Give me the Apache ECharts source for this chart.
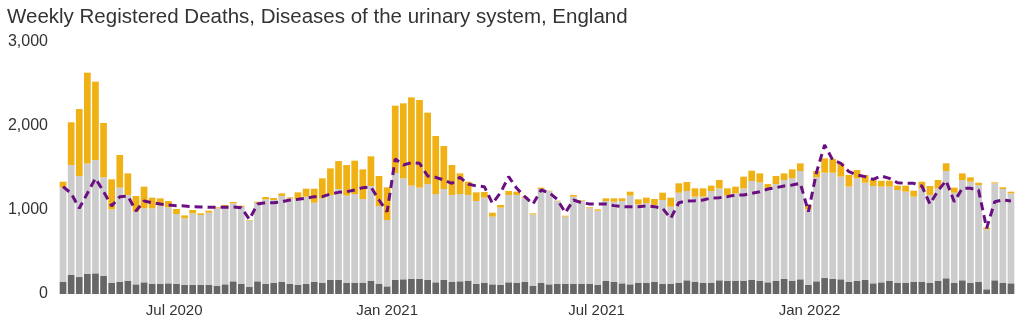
<!DOCTYPE html>
<html>
<head>
<meta charset="utf-8">
<script src="https://cdn.jsdelivr.net/npm/echarts@6/dist/echarts.min.js"></script>
<style>
  html, body { margin: 0; padding: 0; background: #fff; }
  #chart { width: 1024px; height: 324px; }
</style>
</head>
<body>
<div id="chart"></div>
<script>
// Week-ending dates (Fridays)
const weeks = [
  '2020-03-27','2020-04-03','2020-04-10','2020-04-17','2020-04-24','2020-05-01','2020-05-08','2020-05-15','2020-05-22','2020-05-29',
  '2020-06-05','2020-06-12','2020-06-19','2020-06-26','2020-07-03','2020-07-10','2020-07-17','2020-07-24','2020-07-31','2020-08-07',
  '2020-08-14','2020-08-21','2020-08-28','2020-09-04','2020-09-11','2020-09-18','2020-09-25','2020-10-02','2020-10-09','2020-10-16',
  '2020-10-23','2020-10-30','2020-11-06','2020-11-13','2020-11-20','2020-11-27','2020-12-04','2020-12-11','2020-12-18','2020-12-25',
  '2021-01-01','2021-01-08','2021-01-15','2021-01-22','2021-01-29','2021-02-05','2021-02-12','2021-02-19','2021-02-26','2021-03-05',
  '2021-03-12','2021-03-19','2021-03-26','2021-04-02','2021-04-09','2021-04-16','2021-04-23','2021-04-30','2021-05-07','2021-05-14',
  '2021-05-21','2021-05-28','2021-06-04','2021-06-11','2021-06-18','2021-06-25','2021-07-02','2021-07-09','2021-07-16','2021-07-23',
  '2021-07-30','2021-08-06','2021-08-13','2021-08-20','2021-08-27','2021-09-03','2021-09-10','2021-09-17','2021-09-24','2021-10-01',
  '2021-10-08','2021-10-15','2021-10-22','2021-10-29','2021-11-05','2021-11-12','2021-11-19','2021-11-26','2021-12-03','2021-12-10',
  '2021-12-17','2021-12-24','2021-12-31','2022-01-07','2022-01-14','2022-01-21','2022-01-28','2022-02-04','2022-02-11','2022-02-18',
  '2022-02-25','2022-03-04','2022-03-11','2022-03-18','2022-03-25','2022-04-01','2022-04-08','2022-04-15','2022-04-22','2022-04-29',
  '2022-05-06','2022-05-13','2022-05-20','2022-05-27','2022-06-03','2022-06-10','2022-06-17','2022-06-24'
];

// Dark grey bottom segment (height of the dark part)
const darkPart = [
  147,226,202,238,246,214,131,147,159,115, 139,123,123,127,123,111,111,111,111,95,
  115,151,123,83,151,123,131,143,119,111, 119,143,131,167,167,131,131,131,159,123,
  91,167,175,179,179,167,139,167,143,151, 159,119,135,115,107,139,135,143,99,135,
  115,119,119,119,119,119,107,155,147,127, 115,135,131,147,123,123,135,163,147,131,
  135,163,155,159,159,167,159,139,159,179, 159,175,107,151,190,179,175,147,155,167,
  127,139,155,135,135,147,147,131,159,187, 131,163,131,143,56,163,135,127
];

// Top of the light grey part (dark + light)
const greyTop = [
  1266,1536,1405,1555,1595,1389,1008,1266,1179,980, 1020,1020,1052,1032,952,901,960,940,968,1020,
  1048,1079,1040,873,1087,1127,1119,1167,1139,1127, 1159,1087,1139,1179,1250,1171,1190,1131,1286,1048,
  881,1440,1377,1290,1266,1309,1190,1250,1179,1190, 1179,1107,1147,921,1028,1179,1179,1147,948,1250,
  1226,1107,921,1159,1107,1020,992,1107,1099,1107, 1171,1067,1083,1060,1119,1040,1206,1226,1159,1159,
  1226,1258,1171,1198,1258,1345,1329,1258,1309,1357, 1377,1464,1008,1389,1444,1444,1397,1278,1377,1325,
  1286,1278,1278,1238,1218,1159,1258,1179,1258,1464, 1206,1357,1337,1297,770,1317,1250,1198
];

// Top of the whole bar (including the orange part)
const barTop = [
  1337,2044,2202,2635,2528,2036,1365,1655,1436,1167, 1278,1147,1139,1107,1012,936,1000,960,992,1032,
  1060,1095,1052,881,1099,1155,1143,1198,1151,1210, 1254,1254,1377,1496,1583,1535,1587,1484,1639,1405,
  1270,2242,2270,2341,2309,2159,1881,1762,1536,1436, 1337,1210,1214,968,1060,1226,1218,1159,960,1266,
  1230,1111,932,1179,1115,1032,1008,1139,1139,1139, 1218,1127,1147,1131,1206,1147,1317,1333,1258,1258,
  1290,1357,1258,1278,1397,1468,1436,1309,1405,1436, 1484,1555,1060,1464,1615,1607,1556,1417,1476,1417,
  1357,1349,1349,1290,1290,1230,1337,1286,1357,1556, 1266,1436,1389,1325,790,1329,1270,1218
];

// Dashed purple line
const expected = [
  1278,1198,1020,1198,1377,1218,1048,1159,1167,988, 1107,1087,1071,1060,1052,1048,1040,1036,1032,1032,
  1032,1036,1028,889,1071,1087,1087,1099,1119,1127, 1139,1159,1159,1190,1210,1218,1238,1266,1274,1119,
  980,1607,1536,1564,1556,1405,1389,1357,1317,1389, 1309,1286,1278,1079,1206,1397,1258,1159,1071,1238,
  1206,1127,968,1119,1087,1071,1071,1071,1052,1040, 1040,1040,1048,1040,1020,901,1087,1107,1111,1119,
  1143,1147,1159,1179,1179,1198,1218,1250,1266,1286, 1297,1317,980,1448,1774,1595,1556,1456,1417,1397,
  1365,1405,1377,1325,1317,1317,1286,1071,1230,1349, 1099,1258,1258,1238,782,1099,1119,1107
];

const yTicks = [0, 1000, 2000, 3000];
const xTickDates = ['2020-07-01', '2021-01-01', '2021-07-01', '2022-01-01'];
const xTickLabels = ['Jul 2020', 'Jan 2021', 'Jul 2021', 'Jan 2022'];

function ts(s) { const p = s.split('-').map(Number); return Date.UTC(p[0], p[1] - 1, p[2]); }
const halfWeek = 3.5 * 24 * 3600 * 1000;
const xMin = ts(weeks[0]) - halfWeek;
const xMax = ts(weeks[weeks.length - 1]) + halfWeek;
const tickTs = xTickDates.map(ts);

const lightData = greyTop.map((v, i) => v - darkPart[i]);
const orangeData = barTop.map((v, i) => v - greyTop[i]);

const FONT = 'Liberation Sans, Arial, sans-serif';
const chart = echarts.init(document.getElementById('chart'), null, { renderer: 'canvas' });
const BW = 6.7;
chart.setOption({
  animation: false,
  backgroundColor: '#ffffff',
  title: {
    text: 'Weekly Registered Deaths, Diseases of the urinary system, England',
    left: 2, top: 2,
    textStyle: { fontFamily: FONT, fontSize: 20.5, fontWeight: 'normal', color: '#333333' }
  },
  grid: { left: 59, right: 9, top: 42, bottom: 30, containLabel: false },
  xAxis: [
    {
      type: 'category', data: weeks, boundaryGap: true,
      axisLine: { show: false }, axisTick: { show: false },
      axisLabel: { show: false }, splitLine: { show: false }
    },
    {
      type: 'value', position: 'bottom', min: xMin, max: xMax,
      axisLine: { show: false }, axisTick: { show: false }, splitLine: { show: false },
      axisLabel: {
        customValues: tickTs,
        showMinLabel: true, showMaxLabel: true,
        formatter: function (v) {
          const k = tickTs.indexOf(v);
          return k >= 0 ? xTickLabels[k] : '';
        },
        fontFamily: FONT, fontSize: 15, color: '#333333', margin: 9
      }
    }
  ],
  yAxis: {
    type: 'value',
    min: yTicks[0], max: yTicks[yTicks.length - 1], interval: 1000,
    axisLine: { show: false },
    axisTick: { show: false },
    splitLine: { show: false },
    axisLabel: {
      fontFamily: FONT, fontSize: 16, color: '#333333', margin: 11,
      formatter: function (v) { return v.toLocaleString('en-GB'); }
    }
  },
  series: [
    { type: 'bar', stack: 'deaths', data: darkPart, barWidth: BW, xAxisIndex: 0, itemStyle: { color: '#666666' } },
    { type: 'bar', stack: 'deaths', data: lightData, barWidth: BW, xAxisIndex: 0, itemStyle: { color: '#cccccc' } },
    { type: 'bar', stack: 'deaths', data: orangeData, barWidth: BW, xAxisIndex: 0, itemStyle: { color: '#f0b114' } },
    { type: 'line', data: expected, xAxisIndex: 0, symbol: 'none', z: 5,
      lineStyle: { color: '#6a0f82', width: 3, type: [8, 5] } }
  ]
});
</script>
</body>
</html>
